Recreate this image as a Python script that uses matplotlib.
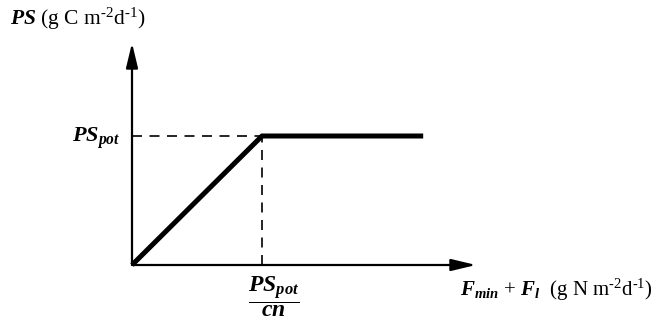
import matplotlib
matplotlib.use("Agg")
import matplotlib.pyplot as plt

# ---- data (normalised units: PS_pot = 1, PS_pot/cn = 1) ----
n_supply = [0.0, 1.0, 2.24]      # F_min + F_l
ps_values = [0.0, 1.0, 1.0]      # PS
ps_pot = 1.0
n_at_pot = 1.0                   # PS_pot / cn
x_axis_end = 2.646
y_axis_end = 1.721

plt.rcParams['mathtext.fontset'] = 'custom'
plt.rcParams['mathtext.rm'] = 'Liberation Serif'
plt.rcParams['mathtext.it'] = 'Liberation Serif:italic'
plt.rcParams['mathtext.bf'] = 'Liberation Serif:italic:bold'
plt.rcParams['font.family'] = ['Liberation Serif', 'DejaVu Serif']

fig = plt.figure(figsize=(6.65, 3.22), dpi=100)
ax = fig.add_axes([0, 0, 1, 1])
ax.set_xlim(-132 / 130, (665 - 132) / 130)
ax.set_ylim(-57 / 129, (322 - 57) / 129)
ax.axis('off')

arrow = dict(arrowstyle='-|>,head_length=1.5,head_width=0.36', lw=1.6,
             color='black', shrinkA=0, shrinkB=0, mutation_scale=10)
ax.annotate('', xy=(x_axis_end, 0), xytext=(0, 0), arrowprops=arrow)
ax.annotate('', xy=(0, y_axis_end), xytext=(0, 0), arrowprops=arrow)

# dashed guide lines
ax.plot([0, n_at_pot], [ps_pot, ps_pot], color='black', lw=1.2,
        dashes=(6, 4.5), solid_capstyle='butt')
ax.plot([n_at_pot, n_at_pot], [0, ps_pot], color='black', lw=1.2,
        dashes=(6, 4.5))

# response curve
ax.plot(n_supply, ps_values, color='black', lw=3.6, solid_capstyle='butt',
        solid_joinstyle='miter')

fs = 15.5
ax.text(-0.94, 1.86, r'$\mathbf{PS}$ (g C m$^{\text{-}2}$d$^{\text{-}1}$)', fontsize=fs,
        ha='left', va='baseline')
ax.text(-0.09, ps_pot - 0.05, r'$\mathbf{PS}_{\mathbf{pot}}$', fontsize=16,
        ha='right', va='baseline')
ax.text(1.09, -0.245, r'$\dfrac{\mathbf{PS}_{\mathbf{pot}}}{\mathbf{cn}}$',
        fontsize=17, ha='center', va='center')
ax.text(2.52, -0.235,
        r'$\mathbf{F}_{\mathbf{min}}$ + $\mathbf{F}_{\mathbf{l}}$  (g N m$^{\text{-}2}$d$^{\text{-}1}$)',
        fontsize=15, ha='left', va='baseline')

fig.savefig('out.png', dpi=100)
